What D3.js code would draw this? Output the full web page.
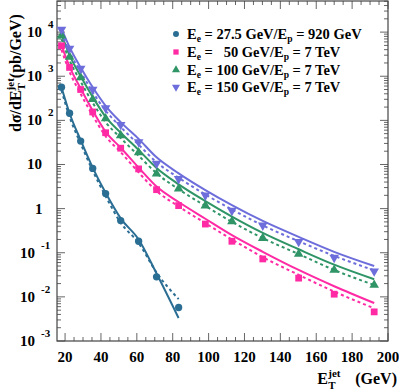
<!DOCTYPE html>
<html>
<head>
<meta charset="utf-8">
<script src="https://cdn.jsdelivr.net/npm/d3@7"></script>
<style>
  body { margin: 0; background: #fff; }
  svg text { font-family: "Liberation Serif", "Times New Roman", serif; font-weight: bold; }
</style>
</head>
<body>
<div id="chart"></div>
<script>
// E_T^jet bin centres (GeV)
const etBins = [18, 22.5, 28.7, 35.4, 42.6, 51, 61, 71, 83.3, 98.2, 113, 130.2, 150.2, 170, 192.3];
const etBinsHera = etBins.slice(0, 9);

// Ee = 27.5 GeV / Ep = 920 GeV
const heraPts = [562, 145, 33.9, 8.13, 2.19, 0.537, 0.182, 0.0285, 0.00575];
const heraSolid = [562, 145, 35.5, 8.51, 2.29, 0.603, 0.2, 0.0339, 0.00331];
const heraDotted = [479, 120, 29.5, 7.24, 1.91, 0.479, 0.166, 0.0355, 0.00891];

// Ee = 50 GeV / Ep = 7 TeV
const e50Pts = [4900, 1585, 500, 155, 52.5, 23.4, 7.94, 2.69, 1.17, 0.447, 0.182, 0.0724, 0.0266, 0.0115, 0.00457];
const e50Solid = [5010, 1660, 525, 166, 55, 24, 8.5, 3.16, 1.41, 0.59, 0.251, 0.105, 0.0407, 0.0174, 0.00724];
const e50Dotted = [3980, 1260, 398, 129, 43.7, 19.1, 6.61, 2.51, 1.12, 0.468, 0.2, 0.0794, 0.0316, 0.0132, 0.0055];

// Ee = 100 GeV / Ep = 7 TeV
const e100Pts = [8320, 2750, 933, 302, 110, 45.7, 18.6, 6.17, 2.82, 1.17, 0.513, 0.214, 0.0933, 0.0407, 0.0186];
const e100Solid = [8910, 3020, 1000, 339, 120, 52.5, 21.4, 8.32, 3.55, 1.48, 0.661, 0.282, 0.12, 0.0537, 0.0251];
const e100Dotted = [6920, 2290, 759, 251, 91.2, 39.8, 15.8, 6.31, 2.75, 1.15, 0.501, 0.214, 0.0933, 0.0407, 0.0186];

// Ee = 150 GeV / Ep = 7 TeV
const e150Pts = [11500, 4270, 1500, 501, 191, 79.4, 32.4, 10.5, 4.73, 2.0, 0.902, 0.417, 0.178, 0.0776, 0.038];
const e150Solid = [12000, 4570, 1580, 562, 214, 91.2, 38, 14.5, 6.31, 2.63, 1.2, 0.525, 0.229, 0.105, 0.0501];
const e150Dotted = [9550, 3550, 1260, 437, 166, 70.8, 28.2, 11.2, 5.01, 2.09, 0.955, 0.417, 0.182, 0.0851, 0.0398];

const xTickVals = [20, 40, 60, 80, 100, 120, 140, 160, 180, 200];
const yTickExps = [4, 3, 2, 1, 0, -1, -2, -3];

const series = [
  { label: " = 27.5 GeV/E", tail: " = 920 GeV", x: etBinsHera, pts: heraPts, solid: heraSolid, dotted: heraDotted, color: "#2b6e94", shape: d3.symbolCircle },
  { label: " =   50 GeV/E", tail: " = 7 TeV", x: etBins, pts: e50Pts, solid: e50Solid, dotted: e50Dotted, color: "#ff2aa4", shape: d3.symbolSquare },
  { label: " = 100 GeV/E", tail: " = 7 TeV", x: etBins, pts: e100Pts, solid: e100Solid, dotted: e100Dotted, color: "#2f9466", shape: d3.symbolTriangle },
  { label: " = 150 GeV/E", tail: " = 7 TeV", x: etBins, pts: e150Pts, solid: e150Solid, dotted: e150Dotted, color: "#6d6ddb", shape: "down" }
];

const W = 399, H = 390;
const frame = { left: 57, right: 388, top: 1, bottom: 341 };

const svg = d3.select("#chart").append("svg")
  .attr("width", W)
  .attr("height", H);

const x = d3.scaleLinear().domain([15.5, 200]).range([frame.left, frame.right]);
const y = d3.scaleLog().domain([1e-3, Math.pow(10, 4.705)]).range([frame.bottom, frame.top]);

// ticks on all four sides, pointing in
const tickCol = "#666";
const xMinor = d3.range(20, 201, 5);
xMinor.forEach(v => {
  let len = v % 20 === 0 ? 8 : 4;
  svg.append("line").attr("x1", x(v)).attr("x2", x(v))
    .attr("y1", frame.bottom).attr("y2", frame.bottom - len)
    .attr("stroke", tickCol);
  svg.append("line").attr("x1", x(v)).attr("x2", x(v))
    .attr("y1", frame.top).attr("y2", frame.top + len)
    .attr("stroke", tickCol);
});

let yMinor = [];
for (let e = -3; e <= 4; e++) {
  for (let m = 1; m <= 9; m++) {
    let v = m * Math.pow(10, e);
    if (v <= y.domain()[1]) yMinor.push({ v: v, major: m === 1 });
  }
}
yMinor.forEach(d => {
  let len = d.major ? 8 : 4;
  svg.append("line").attr("x1", frame.left).attr("x2", frame.left + len)
    .attr("y1", y(d.v)).attr("y2", y(d.v)).attr("stroke", tickCol);
  svg.append("line").attr("x1", frame.right).attr("x2", frame.right - len)
    .attr("y1", y(d.v)).attr("y2", y(d.v)).attr("stroke", tickCol);
});

svg.append("rect")
  .attr("x", frame.left).attr("y", frame.top)
  .attr("width", frame.right - frame.left)
  .attr("height", frame.bottom - frame.top)
  .attr("fill", "none").attr("stroke", "#444").attr("stroke-width", 1.2);

// x tick labels
svg.selectAll(".xlab").data(xTickVals).enter().append("text")
  .attr("class", "xlab")
  .attr("x", d => x(d)).attr("y", 362)
  .attr("text-anchor", "middle")
  .attr("font-size", "15px")
  .text(d => d);

// y tick labels
yTickExps.forEach(e => {
  let yy = y(Math.pow(10, e)) + 5;
  if (e === 0) {
    svg.append("text").attr("x", 35).attr("y", yy).attr("font-size", "15px").text("1");
  } else if (e === 1) {
    svg.append("text").attr("x", 27).attr("y", yy).attr("font-size", "15px").text("10");
  } else {
    let t = svg.append("text").attr("x", e < 0 ? 20 : 27).attr("y", yy).attr("font-size", "15px");
    t.append("tspan").text("10");
    t.append("tspan").attr("dx", 6).attr("dy", -9).attr("font-size", "11px").text(e);
  }
});

// curves
const line = d3.line()
  .x(d => x(d[0]))
  .y(d => y(d[1]))
  .curve(d3.curveMonotoneX);

series.forEach(s => {
  svg.append("path")
    .attr("d", line(s.x.map((v, i) => [v, s.dotted[i]])))
    .attr("fill", "none").attr("stroke", s.color)
    .attr("stroke-width", 2).attr("stroke-dasharray", "3,3");
  svg.append("path")
    .attr("d", line(s.x.map((v, i) => [v, s.solid[i]])))
    .attr("fill", "none").attr("stroke", s.color)
    .attr("stroke-width", 2);
});

function marker(g, s, cx, cy, size) {
  if (s.shape === "down") {
    g.append("path")
      .attr("d", d3.symbol().type(d3.symbolTriangle).size(size)())
      .attr("transform", `translate(${cx},${cy}) rotate(180)`)
      .attr("fill", s.color);
  } else {
    g.append("path")
      .attr("d", d3.symbol().type(s.shape).size(size)())
      .attr("transform", `translate(${cx},${cy})`)
      .attr("fill", s.color);
  }
}

series.forEach(s => {
  let g = svg.append("g");
  let sz = s.shape === d3.symbolCircle ? 42 : s.shape === d3.symbolSquare ? 46 : 40;
  s.pts.forEach((v, i) => marker(g, s, x(s.x[i]), y(v), sz));
});

// legend
const legY = [34, 52, 70, 87];
series.forEach((s, i) => {
  let g = svg.append("g");
  marker(g, s, 176, legY[i], 28);
  let t = svg.append("text")
    .attr("x", 187).attr("y", legY[i] + 5)
    .attr("font-size", "14.5px")
    .style("white-space", "pre");
  t.append("tspan").text("E");
  t.append("tspan").attr("dy", 3).attr("font-size", "9.5px").text("e");
  t.append("tspan").attr("dy", -3).text(s.label);
  t.append("tspan").attr("dy", 3).attr("font-size", "9.5px").text("p");
  t.append("tspan").attr("dy", -3).text(s.tail);
  // squeeze to the reference width if the font runs wide
  let w = t.node().getComputedTextLength();
  let target = i === 0 ? 175 : 155;
  if (w > target) t.attr("textLength", target).attr("lengthAdjust", "spacingAndGlyphs");
});

// x title, right aligned to the window edge
let xt = svg.append("g");
let gev = xt.append("text").attr("font-size", "16px").style("white-space", "pre").text(" (GeV)");
let gw = gev.node().getComputedTextLength();
let x0 = 397 - gw - 34;
xt.attr("transform", `translate(${x0},384)`);
xt.append("text").attr("font-size", "16px").text("E");
xt.append("text").attr("x", 11).attr("y", -7).attr("font-size", "11px").text("jet");
xt.append("text").attr("x", 11).attr("y", 5).attr("font-size", "11px").text("T");
gev.attr("x", 34);

// y title
let yt = svg.append("g").attr("transform", "translate(21,132) rotate(-90)");
let p1 = yt.append("text").attr("font-size", "16px").text("dσ/dE");
let w1 = p1.node().getComputedTextLength();
let p2 = yt.append("text").attr("x", w1).attr("y", -7).attr("font-size", "11px").text("jet");
yt.append("text").attr("x", w1).attr("y", 4).attr("font-size", "11px").text("T");
let w2 = p2.node().getComputedTextLength();
yt.append("text").attr("x", w1 + w2).attr("font-size", "16px").text("(pb/GeV)");
</script>
</body>
</html>
